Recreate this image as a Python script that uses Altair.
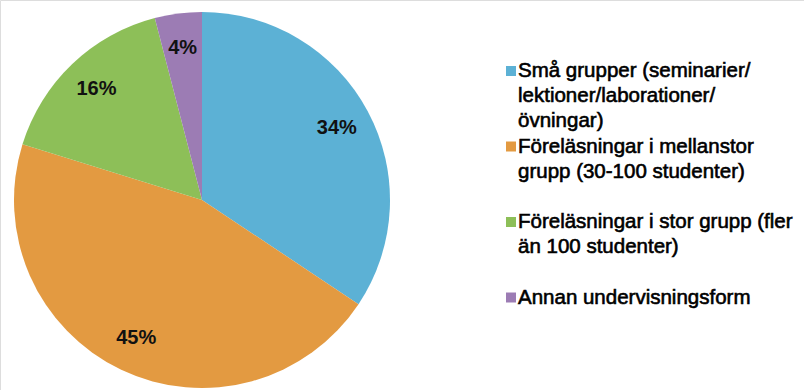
import altair as alt
import pandas as pd

# Teaching formats and their shares (%)
categories = [
    "Små grupper (seminarier/lektioner/laborationer/övningar)",
    "Föreläsningar i mellanstor grupp (30-100 studenter)",
    "Föreläsningar i stor grupp (fler än 100 studenter)",
    "Annan undervisningsform",
]
shares = [34, 45, 16, 4]
colors = ["#5CB1D5", "#E39A41", "#8DBF58", "#9C7CB4"]

# Legend text, broken into lines as displayed
legend_lines = [
    ["Små grupper (seminarier/", "lektioner/laborationer/", "övningar)"],
    ["Föreläsningar i mellanstor", "grupp (30-100 studenter)"],
    ["Föreläsningar i stor grupp (fler", "än 100 studenter)"],
    ["Annan undervisningsform"],
]

FONT = "Liberation Sans"
CX, CY, R = 202, 200, 188

pie_df = pd.DataFrame({
    "category": categories,
    "share": shares,
    "order": list(range(len(categories))),
    "label": [f"{s}%" for s in shares],
})

rows = []
for i, lines in enumerate(legend_lines):
    for j, line in enumerate(lines):
        rows.append({"category": categories[i], "line": line, "row": 3 * i + j, "first": j == 0})
legend_df = pd.DataFrame(rows)

color_scale = alt.Scale(domain=categories, range=colors)
theta = alt.Theta("share:Q", stack=True)
order = alt.Order("order:Q")

pie = alt.Chart(pie_df).mark_arc(radius=R, stroke=None).encode(
    theta=theta,
    order=order,
    color=alt.Color("category:N", scale=color_scale, legend=None),
    x=alt.value(CX),
    y=alt.value(CY),
)

pct = alt.Chart(pie_df).mark_text(
    radius=153, font=FONT, fontSize=20, fontWeight="bold", color="#111111"
).encode(
    theta=theta,
    order=order,
    text="label:N",
    x=alt.value(CX),
    y=alt.value(CY),
)

row_y = alt.Y("row:Q", axis=None, scale=alt.Scale(domain=[0, 9], range=[71, 297.5]))

legend_sq = alt.Chart(legend_df).transform_filter("datum.first").mark_square(
    size=100, opacity=1
).encode(
    x=alt.value(511),
    y=row_y,
    color=alt.Color("category:N", scale=color_scale, legend=None),
)

# heavy legend text: regular face with a thin outline
legend_txt = alt.Chart(legend_df).mark_text(
    align="left", baseline="middle", font=FONT, fontSize=20.5, color="#000000",
    stroke="#000000", strokeWidth=0.6,
).encode(
    x=alt.value(518),
    y=row_y,
    text="line:N",
)

chart = alt.layer(pie, pct, legend_sq, legend_txt).properties(
    width=804, height=390, autosize=alt.AutoSizeParams(type="none"), padding=0
).configure_view(stroke=None).configure(background="white")

chart.save("out.html", embed_options={"renderer": "svg", "actions": False})
